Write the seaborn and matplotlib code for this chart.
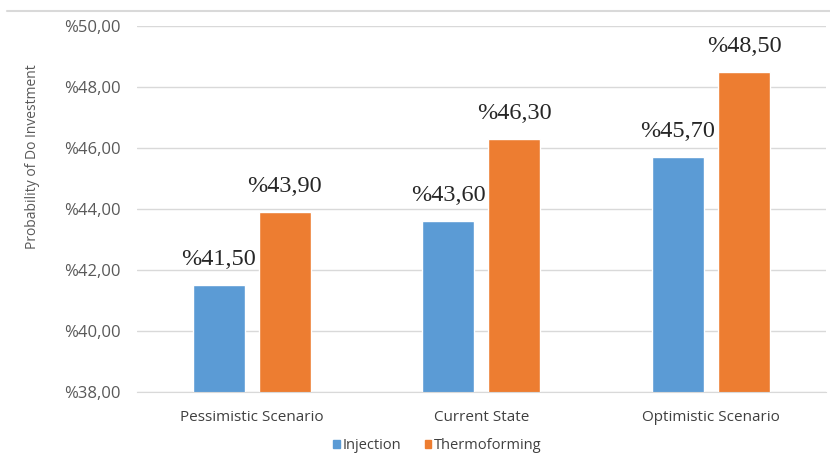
import matplotlib
matplotlib.use("Agg")
import matplotlib.pyplot as plt
import seaborn as sns
import pandas as pd
from matplotlib.lines import Line2D
from matplotlib.patches import Patch

categories = ["Pessimistic Scenario", "Current State", "Optimistic Scenario"]
series = ["Injection", "Thermoforming"]
injection = [41.5, 43.6, 45.7]
thermoforming = [43.9, 46.3, 48.5]
yticks = [38, 40, 42, 44, 46, 48, 50]

df = pd.DataFrame({
    "cat": categories * 2,
    "series": [series[0]] * 3 + [series[1]] * 3,
    "val": injection + thermoforming,
})

sns.set_style("white")
plt.rcParams["font.family"] = ["Open Sans", "DejaVu Sans"]

fig = plt.figure(figsize=(8.3, 4.57), dpi=100)
ax = fig.add_axes([0.165, 0.142, 0.830, 0.801])
colors = {"Injection": "#5B9BD5", "Thermoforming": "#ED7D31"}
sns.barplot(data=df, x="cat", y="val", hue="series", palette=colors,
            width=0.575, gap=0.21, ax=ax, legend=False, saturation=1)

ax.set_ylim(38, 50)
ax.set_yticks(yticks)
ax.set_yticklabels(["%" + f"{v:.2f}".replace(".", ",") for v in yticks],
                   fontsize=12, color="#595959")
ax.yaxis.grid(True, color="#d9d9d9", linewidth=1)
ax.set_axisbelow(True)
for s in ["top", "right", "left"]:
    ax.spines[s].set_visible(False)
ax.spines["bottom"].set_color("#d9d9d9")
ax.tick_params(axis="y", length=0, pad=12)
ax.tick_params(axis="x", length=0, pad=13, labelsize=11, labelcolor="#404040")
ax.set_xlabel("")
ax.set_ylabel("")
fig.text(32 / 830, 1 - 157 / 457, "Probability of Do Investment", rotation=90,
         ha="center", va="center", fontsize=10, color="#595959")

for cont in ax.containers:
    labels = ["%" + f"{b.get_height():.2f}".replace(".", ",") for b in cont]
    ax.bar_label(cont, labels=labels, padding=11, fontsize=17.5,
                 family="Liberation Serif", color="#262626")

fig.add_artist(Line2D([0.008, 1.0], [0.976, 0.976], color="#d9d9d9", linewidth=1.5,
                      transform=fig.transFigure))

handles = [Patch(color=colors[s], label=s) for s in series]
fig.legend(handles=handles, loc="center", bbox_to_anchor=(0.527, 0.025), ncol=2,
           frameon=False, fontsize=10.5, handlelength=0.45, handleheight=0.45,
           handletextpad=0.2, columnspacing=1.6, labelcolor="#404040",
           borderpad=0, borderaxespad=0)

fig.savefig("out.png", dpi=100, facecolor="white")
